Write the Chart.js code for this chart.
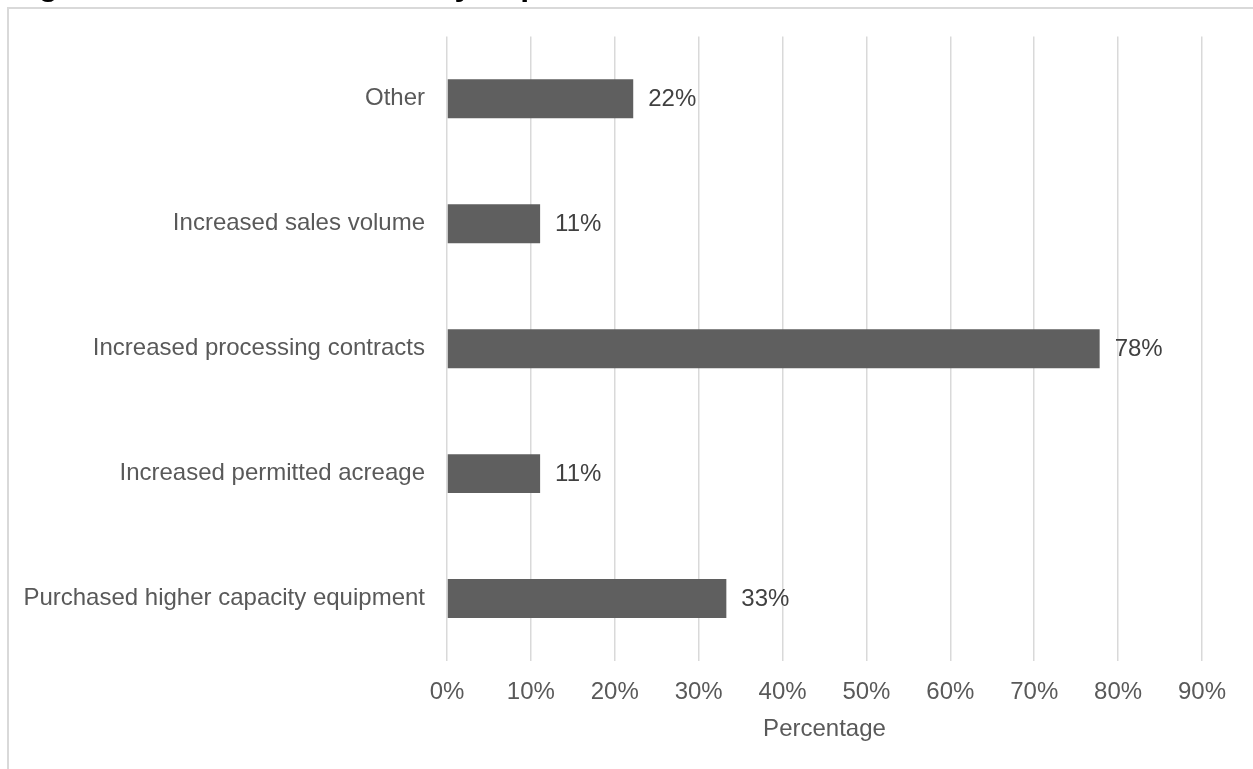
<!DOCTYPE html>
<html>
<head>
<meta charset="utf-8">
<script src="https://cdn.jsdelivr.net/npm/chart.js@4/dist/chart.umd.min.js"></script>
<style>
  html, body { margin: 0; padding: 0; background: #ffffff; }
  body { width: 1253px; height: 769px; overflow: hidden; position: relative; }
  #frame {
    position: absolute; left: 7px; top: 7px; width: 1300px; height: 820px;
    border: 2px solid #d9d9d9; box-sizing: border-box;
  }
  #heading {
    position: absolute; left: 10px; top: -32px; margin: 0; z-index: 2;
    font: bold 32px/32px "Liberation Sans", Arial, sans-serif; color: #000;
    white-space: nowrap;
  }
  #wrap { position: absolute; left: 0; top: 0; width: 1253px; height: 769px; z-index: 1; }
  #chart { display: block; }
</style>
</head>
<body>
<div id="frame"></div>
<h1 id="heading">Figure 4. Reasons for Industry Expansion</h1>
<div id="wrap"><canvas id="chart" width="1253" height="769"></canvas></div>
<script>
// Survey responses, listed top to bottom as shown on the chart
const categories = [
  'Other',
  'Increased sales volume',
  'Increased processing contracts',
  'Increased permitted acreage',
  'Purchased higher capacity equipment'
];
const shares = [22.2, 11.1, 77.8, 11.1, 33.3];
const tickValues = [0, 10, 20, 30, 40, 50, 60, 70, 80, 90];
const axisTitle = 'Percentage';

const FONT = '"Liberation Sans", Arial, sans-serif';

// Writes the rounded percentage just past the end of each bar
const valueLabels = {
  id: 'valueLabels',
  afterDatasetsDraw(chart) {
    const { ctx } = chart;
    const meta = chart.getDatasetMeta(0);
    ctx.save();
    ctx.font = '24px ' + FONT;
    ctx.fillStyle = '#404040';
    ctx.textAlign = 'left';
    ctx.textBaseline = 'middle';
    meta.data.forEach((bar, i) => {
      const v = chart.data.datasets[0].data[i];
      ctx.fillText(Math.round(v) + '%', bar.x + 15, bar.y + 1);
    });
    ctx.restore();
  }
};

new Chart(document.getElementById('chart'), {
  type: 'bar',
  data: {
    labels: categories,
    datasets: [{
      data: shares,
      backgroundColor: '#5f5f5f',
      borderWidth: 0,
      categoryPercentage: 1,
      barPercentage: 0.312
    }]
  },
  options: {
    indexAxis: 'y',
    responsive: false,
    animation: false,
    devicePixelRatio: 1,
    layout: { padding: { top: 36, right: 51, bottom: 0, left: 0 } },
    plugins: { legend: { display: false }, tooltip: { enabled: false } },
    scales: {
      x: {
        min: 0,
        max: 90,
        afterBuildTicks(scale) { scale.ticks = tickValues.map(v => ({ value: v })); },
        afterFit(scale) { scale.height = 108; },
        grid: { color: '#d9d9d9', lineWidth: 1.5, drawTicks: false },
        border: { display: false },
        ticks: {
          color: '#595959',
          font: { family: FONT, size: 24, lineHeight: 1.2 },
          padding: 17,
          maxRotation: 0,
          callback: v => v + '%'
        },
        title: {
          display: true,
          text: axisTitle,
          color: '#595959',
          font: { family: FONT, size: 24, lineHeight: 1.2 },
          padding: { top: 0, bottom: 25 }
        }
      },
      y: {
        afterFit(scale) { scale.width = 447; },
        grid: { display: false, drawTicks: false },
        border: { display: false },
        ticks: {
          color: '#595959',
          font: { family: FONT, size: 24 },
          padding: 22
        }
      }
    }
  },
  plugins: [valueLabels]
});
</script>
</body>
</html>
